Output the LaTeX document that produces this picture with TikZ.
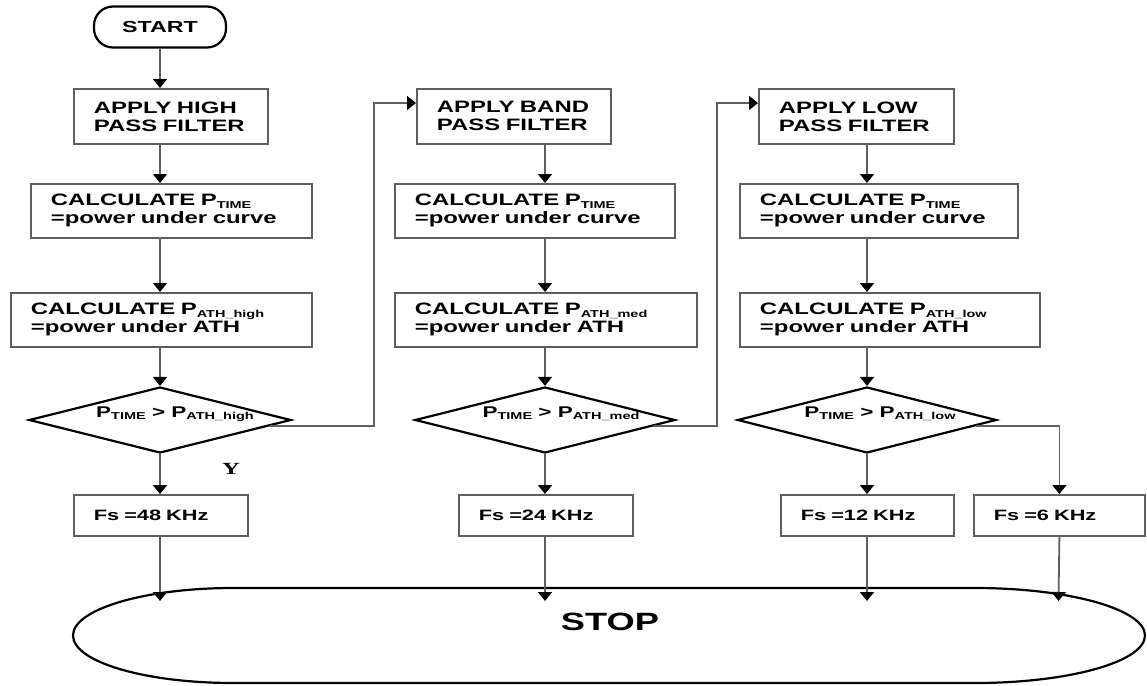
\documentclass[tikz,border=0pt]{standalone}
\usepackage{fontspec}
\setmainfont{Liberation Sans}[FakeStretch=1.45]
\newfontfamily\yfont{Liberation Serif}[FakeStretch=1.45]
\usetikzlibrary{shapes.geometric,arrows.meta}
% P with a lowered small label
\newcommand{\Psb}[2][10]{P\raisebox{-2.5pt}{\fontsize{#1}{#1}\selectfont #2}}
\definecolor{linegray}{RGB}{95,95,95}
\begin{document}
\begin{tikzpicture}[x=1pt,y=-1pt,
  box/.style={draw=linegray, line width=1.8pt, anchor=north west,
    inner xsep=20pt, inner ysep=0pt, align=left,
    font=\fontsize{16.5}{18}\selectfont\bfseries},
  fsbox/.style={draw=linegray, line width=1.8pt, anchor=north west,
    inner xsep=20pt, inner ysep=0pt, align=left, minimum height=41pt,
    font=\fontsize{15}{16}\selectfont\bfseries},
  dia/.style={diamond, draw=black, line width=2.2pt, inner sep=0pt,
    minimum width=262pt, minimum height=66pt},
  dtext/.style={inner sep=0pt, font=\fontsize{15.5}{16}\selectfont\bfseries},
  conn/.style={draw=linegray, line width=1.8pt,
    -{Triangle[width=14pt,length=9pt,color=black]}},
  term/.style={draw=black, line width=2.2pt, rounded corners=19pt,
    minimum width=132pt, minimum height=41pt,
    font=\fontsize{16}{17}\selectfont\bfseries}
]
\useasboundingbox (0,0) rectangle (1147,685);

% column axes
\coordinate (c1) at (160,0);
\coordinate (c2) at (545,0);
\coordinate (c3) at (867,0);

% start terminal
\node[term] (start) at (160,27) {START};

% high pass column
\node[box, text width=154pt, minimum height=55pt] (b1) at (73,88) {APPLY HIGH\\PASS FILTER};
\node[box, text width=241pt, minimum height=54pt] (b2) at (30,183) {CALCULATE \Psb{TIME}\\=power under curve};
\node[box, text width=261pt, minimum height=54pt] (b3) at (10,292) {CALCULATE \Psb{ATH\_high}\\=power under ATH};
\node[dia] (d1) at (160,420) {};
\node[dtext] (t1) at (175,414) {\Psb[10]{TIME} > \Psb[10]{ATH\_high}};
\node[fsbox, text width=134pt] (f48) at (73,494) {Fs =48 KHz};
\node[font=\yfont\bfseries\fontsize{17}{17}\selectfont] (ylab) at (231,469) {Y};

% band pass column
\node[box, text width=154pt, minimum height=55pt] (b4) at (416,88) {APPLY BAND\\PASS FILTER};
\node[box, text width=240pt, minimum height=54pt] (b5) at (394,183) {CALCULATE \Psb{TIME}\\=power under curve};
\node[box, text width=262pt, minimum height=54pt] (b6) at (394,292) {CALCULATE \Psb{ATH\_med}\\=power under ATH};
\node[dia, minimum width=260pt] (d2) at (545,420) {};
\node[dtext] (t2) at (561,414) {\Psb[10]{TIME} > \Psb[10]{ATH\_med}};
\node[fsbox, text width=134pt] (f24) at (458,494) {Fs =24 KHz};

% low pass column
\node[box, text width=155pt, minimum height=55pt] (b7) at (758,88) {APPLY LOW\\PASS FILTER};
\node[box, text width=238pt, minimum height=54pt] (b8) at (739,183) {CALCULATE \Psb{TIME}\\=power under curve};
\node[box, text width=260pt, minimum height=54pt] (b9) at (739,292) {CALCULATE \Psb{ATH\_low}\\=power under ATH};
\node[dia, minimum width=259pt] (d3) at (867,420) {};
\node[dtext] (t3) at (880,414) {\Psb[10]{TIME} > \Psb[10]{ATH\_low}};
\node[fsbox, text width=133pt] (f12) at (780,494) {Fs =12 KHz};
\node[fsbox, text width=131pt] (f6) at (973,494) {Fs =6 KHz};

% stop terminal
\draw[black, line width=2.2pt]
  (233,588) arc[start angle=270, end angle=90, x radius=160, y radius=47.5]
  -- (975,683) arc[start angle=90, end angle=-90, x radius=170, y radius=47.5]
  -- cycle;
\node[font=\fontsize{25}{26}\selectfont\bfseries] (stop) at (610,622) {STOP};
\coordinate (s1) at (160,601);
\coordinate (s2) at (545,601);
\coordinate (s3) at (867,601);
\coordinate (s4) at (1058.5,601);

% routing corners
\coordinate (r1) at (374,103);
\coordinate (r2) at (717,103);

% connectors
\draw[conn] (start.south) -- (start.south |- b1.north);
\draw[conn] (b1.south -| c1) -- (b2.north -| c1);
\draw[conn] (b2.south -| c1) -- (b3.north -| c1);
\draw[conn] (b3.south -| c1) -- (d1.north);
\draw[conn] (d1.south) -- (f48.north -| c1);
\draw[conn] (f48.south -| c1) -- (s1);
\draw[conn] (d1.-3.9) -| (r1) -- (r1 -| b4.west);

\draw[conn] (b4.south -| c2) -- (b5.north -| c2);
\draw[conn] (b5.south -| c2) -- (b6.north -| c2);
\draw[conn] (b6.south -| c2) -- (d2.north);
\draw[conn] (d2.south) -- (f24.north -| c2);
\draw[conn] (f24.south -| c2) -- (s2);
\draw[conn] (d2.-3.9) -| (r2) -- (r2 -| b7.west);

\draw[conn] (b7.south -| c3) -- (b8.north -| c3);
\draw[conn] (b8.south -| c3) -- (b9.north -| c3);
\draw[conn] (b9.south -| c3) -- (d3.north);
\draw[conn] (d3.south) -- (f12.north -| c3);
\draw[conn] (f12.south -| c3) -- (s3);
\draw[conn] (d3.-3.9) -| (f6.north);
\draw[conn] (f6.south) -- (s4);
\end{tikzpicture}
\end{document}
